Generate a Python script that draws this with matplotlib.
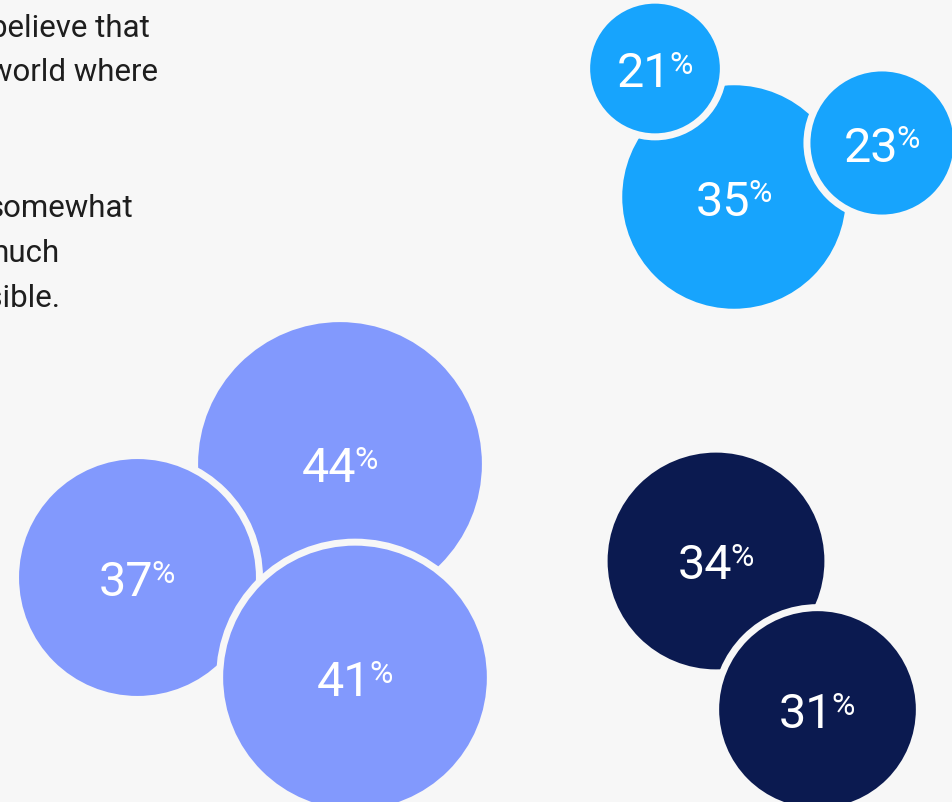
import matplotlib
matplotlib.use("Agg")
import matplotlib.pyplot as plt
from matplotlib.patches import Circle

# data: share of respondents, one list per answer group
blue_values = [35, 21, 23]
purple_values = [44, 37, 41]
navy_values = [34, 31]

# body copy (cropped on the left in the original layout)
body_lines = ["believe that", "world where", "somewhat", "much", "possible."]

# layout (pixel space, y grows downward)
W, H = 953, 803
BG = "#f7f7f7"
COLORS = {"blue": "#17a4fd", "purple": "#8299fd", "navy": "#0b1a50"}
CENTERS = {
    "blue": [(734, 198), (655, 69.5), (882, 144)],
    "purple": [(340, 465), (137.5, 578.5), (355, 678.5)],
    "navy": [(716, 562), (817.5, 710.5)],
}
GAP = 7
BODY_X = [150, 158, 133, 60, 61]
BODY_Y = [37, 81, 217, 262, 307]


def radius(v):
    # bubble radius scales linearly with the value
    return 3.35 * v - 5.5


plt.rcParams["font.family"] = ["Roboto", "DejaVu Sans"]

fig = plt.figure(figsize=(W / 100, H / 100), dpi=100, facecolor=BG)
ax = fig.add_axes([0, 0, 1, 1])
ax.set_xlim(0, W)
ax.set_ylim(H, 0)
ax.axis("off")
ax.set_facecolor(BG)

groups = [("blue", blue_values), ("purple", purple_values), ("navy", navy_values)]

labels = []
for name, values in groups:
    for v, (cx, cy) in zip(values, CENTERS[name]):
        r = radius(v)
        # background ring gives the cut-out gap where bubbles overlap
        ax.add_patch(Circle((cx, cy), r + GAP, facecolor=BG, edgecolor="none"))
        ax.add_patch(Circle((cx, cy), r, facecolor=COLORS[name], edgecolor="none"))
        labels.append((v, cx, cy))

for v, cx, cy in labels:
    t = ax.text(cx - 11, cy + 17.5, f"{v}", color="white", fontsize=35,
                ha="center", va="baseline")
    ax.annotate("%", xy=(1, 1), xycoords=t, xytext=(-2, 0),
                textcoords="offset pixels", color="white", fontsize=23,
                ha="left", va="top")

for s, x, y in zip(body_lines, BODY_X, BODY_Y):
    ax.text(x, y, s, color="#1e1e1e", fontsize=22.5, ha="right", va="baseline")

fig.savefig("out.png", dpi=100, facecolor=BG)
